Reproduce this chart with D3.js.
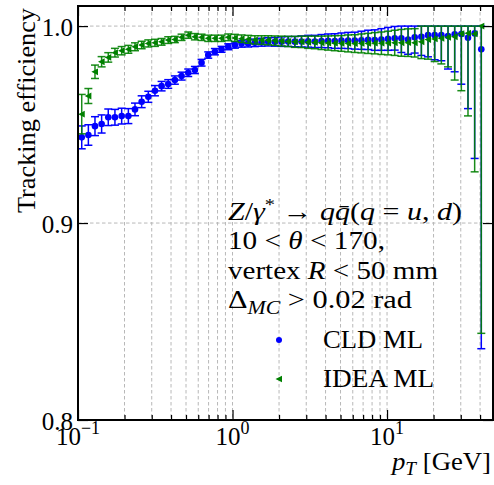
<!DOCTYPE html>
<html><head><meta charset="utf-8">
<script src="https://cdn.jsdelivr.net/npm/d3@7"></script>
<style>body{margin:0;background:#fff} svg{display:block}</style>
</head><body><svg id="c" width="494" height="485" font-family="'Liberation Serif', 'Times New Roman', serif"></svg>
<script>
// ---- data ----
const pT = [0.1057,0.1167,0.1288,0.1422,0.1570,0.1734,0.1917,0.2118,0.2338,0.2582,
  0.2851,0.3148,0.3475,0.3837,0.4236,0.4680,0.5169,0.5708,0.6304,0.6964,
  0.7691,0.8494,0.938,1.036,1.144,1.263,1.395,1.541,1.701,1.879,
  2.075,2.292,2.531,2.795,3.086,3.408,3.764,4.157,4.590,5.069,
  5.598,6.182,6.828,7.540,8.327,9.195,10.15,11.21,12.38,13.68,
  15.10,16.68,18.42,20.34,22.46,24.81,27.40,30.26,33.41,36.90,40.74];
const cldEff = [0.9435,0.9447,0.9492,0.9503,0.9537,0.9537,0.9543,0.9543,0.9577,0.9616,
  0.9641,0.9672,0.9695,0.9706,0.9726,0.9746,0.9763,0.9777,0.9814,0.9853,
  0.9870,0.9882,0.9895,0.9904,0.9910,0.9912,0.9915,0.9918,0.9920,0.9920,
  0.9921,0.9922,0.9921,0.9922,0.9923,0.9922,0.9924,0.9925,0.9924,0.9926,
  0.9927,0.9926,0.9928,0.9930,0.9929,0.9932,0.9935,0.9938,0.9938,0.9932,
  0.9943,0.9946,0.9954,0.9954,0.9954,0.9950,0.9958,0.9960,0.9941,0.9963,0.9882];
const cldErrLo = [0.0058,0.0052,0.0048,0.0046,0.0042,0.0040,0.0040,0.0038,0.0032,0.0030,
  0.0028,0.0026,0.0024,0.0022,0.0021,0.0020,0.0019,0.0018,0.0017,0.0016,
  0.0016,0.0015,0.0015,0.0016,0.0017,0.0018,0.0019,0.0020,0.0021,0.0022,
  0.0024,0.0025,0.0026,0.0028,0.0030,0.0031,0.0033,0.0035,0.0037,0.0039,
  0.0041,0.0043,0.0046,0.0049,0.0052,0.0055,0.0058,0.0060,0.0072,0.0075,
  0.0080,0.0095,0.0110,0.0125,0.0130,0.0168,0.0190,0.0255,0.0360,0.0635,0.1520];
const cldErrHi = [0.0058,0.0052,0.0048,0.0046,0.0042,0.0040,0.0040,0.0038,0.0032,0.0030,
  0.0028,0.0026,0.0024,0.0022,0.0021,0.0020,0.0019,0.0018,0.0017,0.0016,
  0.0016,0.0015,0.0015,0.0016,0.0017,0.0018,0.0019,0.0020,0.0021,0.0022,
  0.0024,0.0025,0.0026,0.0028,0.0030,0.0031,0.0033,0.0035,0.0037,0.0039,
  0.0041,0.0043,0.0046,0.0049,0.0052,0.0055,0.0058,0.0060,0.0062,0.0068,
  0.0057,0.0054,0.0046,0.0046,0.0046,0.0050,0.0042,0.0040,0.0059,0.0037,0.0118];
const ideaEff = [0.9553,0.9645,0.9768,0.9819,0.9841,0.9865,0.9875,0.9882,0.9895,0.9904,
  0.9912,0.9915,0.9920,0.9929,0.9932,0.9943,0.9954,0.9946,0.9943,0.9938,
  0.9938,0.9938,0.9943,0.9940,0.9936,0.9933,0.9930,0.9929,0.9928,0.9926,
  0.9924,0.9922,0.9920,0.9920,0.9918,0.9917,0.9915,0.9914,0.9913,0.9912,
  0.9912,0.9911,0.9912,0.9912,0.9913,0.9913,0.9914,0.9915,0.9915,0.9916,
  0.9915,0.9920,0.9932,0.9935,0.9938,0.9943,0.9946,0.9962,0.9964,0.9960,1.0000];
const ideaErrLo = [0.0100,0.0038,0.0034,0.0026,0.0024,0.0022,0.0021,0.0020,0.0020,0.0019,
  0.0018,0.0018,0.0017,0.0017,0.0016,0.0016,0.0016,0.0016,0.0016,0.0016,
  0.0016,0.0016,0.0017,0.0018,0.0019,0.0020,0.0021,0.0022,0.0023,0.0024,
  0.0025,0.0026,0.0028,0.0029,0.0031,0.0032,0.0034,0.0036,0.0038,0.0040,
  0.0043,0.0045,0.0048,0.0051,0.0054,0.0057,0.0060,0.0064,0.0068,0.0070,
  0.0072,0.0085,0.0100,0.0115,0.0130,0.0150,0.0220,0.0290,0.0420,0.0700,0.1560];
const ideaErrHi = [0.0100,0.0038,0.0034,0.0026,0.0024,0.0022,0.0021,0.0020,0.0020,0.0019,
  0.0018,0.0018,0.0017,0.0017,0.0016,0.0016,0.0016,0.0016,0.0016,0.0016,
  0.0016,0.0016,0.0017,0.0018,0.0019,0.0020,0.0021,0.0022,0.0023,0.0024,
  0.0025,0.0026,0.0028,0.0029,0.0031,0.0032,0.0034,0.0036,0.0038,0.0040,
  0.0043,0.0045,0.0048,0.0051,0.0054,0.0057,0.0060,0.0064,0.0068,0.0070,
  0.0072,0.0080,0.0068,0.0065,0.0062,0.0057,0.0054,0.0038,0.0036,0.0040,0.0000];
const seriesNames = ["CLD ML", "IDEA ML"];
const yTicks = [0.8, 0.9, 1.0];
const yTickLabels = ["0.8", "0.9", "1.0"];
const xMajorTicks = [0.1, 1, 10];
const xMajorExp = ["\u22121", "0", "1"];
const xMinorTicks = [0.2,0.3,0.4,0.5,0.6,0.7,0.8,0.9,2,3,4,5,6,7,8,9,20,30,40];

// ---- layout ----
const FONT = "'Liberation Serif', 'Times New Roman', serif";
const L = 78, R = 493, T = 6, B = 420;
const svg = d3.select("#c");
const x = d3.scaleLog().domain([0.1, 48.5]).range([L, R]);
const y = d3.scaleLinear().domain([0.8, 1.0102]).range([B, T]);
const blue = "#0000ff", green = "#008000";

function txt(parent) {
  return parent.append("text").style("font-family", FONT).attr("fill", "#000");
}
function fit(t, w) { t.attr("textLength", w).attr("lengthAdjust", "spacingAndGlyphs"); return t; }

// grid
const grid = svg.append("g").attr("stroke", "#b8b8b8").attr("stroke-width", 1).attr("stroke-dasharray", "3.5,2.5");
grid.selectAll(".gx").data(xMinorTicks.concat([1, 10])).join("line")
  .attr("x1", d => x(d)).attr("x2", d => x(d)).attr("y1", T).attr("y2", B);
grid.selectAll(".gy").data([0.9, 1.0]).join("line")
  .attr("x1", L).attr("x2", R).attr("y1", d => y(d)).attr("y2", d => y(d));

// series
function drawSeries(eff, lo, hi, color, marker, opacity) {
  const g = svg.append("g");
  const data = pT.map((p, i) => ({p, v: eff[i], lo: eff[i] - lo[i], hi: eff[i] + hi[i]}));
  const eb = g.append("g").attr("stroke", color).attr("stroke-width", 1.5).attr("stroke-opacity", opacity);
  eb.selectAll(".v").data(data).join("line")
    .attr("x1", d => x(d.p)).attr("x2", d => x(d.p)).attr("y1", d => y(d.lo)).attr("y2", d => y(d.hi));
  eb.selectAll(".cl").data(data).join("line")
    .attr("x1", d => x(d.p) - 4).attr("x2", d => x(d.p) + 4).attr("y1", d => y(d.lo)).attr("y2", d => y(d.lo));
  eb.selectAll(".ch").data(data.filter(d => d.hi > d.v)).join("line")
    .attr("x1", d => x(d.p) - 4).attr("x2", d => x(d.p) + 4).attr("y1", d => y(d.hi)).attr("y2", d => y(d.hi));
  const m = g.append("g").attr("fill", color);
  if (marker === "circle") {
    m.selectAll("circle").data(data).join("circle").attr("cx", d => x(d.p)).attr("cy", d => y(d.v)).attr("r", 3.3);
  } else {
    m.selectAll("path").data(data).join("path")
      .attr("d", d => { const cx = x(d.p), cy = y(d.v); return `M${cx-3.6},${cy}L${cx+3},${cy-3.4}L${cx+3},${cy+3.4}Z`; });
  }
}
drawSeries(cldEff, cldErrLo, cldErrHi, blue, "circle", 1);
drawSeries(ideaEff, ideaErrLo, ideaErrHi, green, "tri", 0.9);

// axes (inward ticks, all four sides)
const ax = svg.append("g");
ax.append("g").attr("transform", `translate(0,${B})`).call(d3.axisBottom(x).tickValues(xMajorTicks).tickSize(-10).tickFormat(""));
ax.append("g").attr("transform", `translate(0,${B})`).call(d3.axisBottom(x).tickValues(xMinorTicks).tickSize(-5).tickFormat(""));
ax.append("g").attr("transform", `translate(0,${T})`).call(d3.axisTop(x).tickValues(xMajorTicks).tickSize(-10).tickFormat(""));
ax.append("g").attr("transform", `translate(0,${T})`).call(d3.axisTop(x).tickValues(xMinorTicks).tickSize(-5).tickFormat(""));
ax.append("g").attr("transform", `translate(${L},0)`).call(d3.axisLeft(y).tickValues(yTicks).tickSize(-10).tickFormat(""));
ax.append("g").attr("transform", `translate(${R},0)`).call(d3.axisRight(y).tickValues(yTicks).tickSize(-10).tickFormat(""));
ax.selectAll(".domain").remove();
ax.selectAll(".tick line").attr("stroke", "#000").attr("stroke-width", 1.2);
svg.append("rect").attr("x", L).attr("y", T).attr("width", R - L).attr("height", B - T)
  .attr("fill", "none").attr("stroke", "#000").attr("stroke-width", 2);

// tick labels
const FS = 25;
const yl = svg.append("g");
yTicks.forEach((d, i) => {
  txt(yl).attr("x", L - 5).attr("y", y(d) + 9.5).attr("text-anchor", "end").attr("font-size", FS).text(yTickLabels[i]);
});
const xlg = svg.append("g");
xMajorTicks.forEach((d, i) => {
  const t = txt(xlg).attr("x", x(d)).attr("y", 445).attr("text-anchor", "middle").attr("font-size", FS);
  t.append("tspan").text("10");
  t.append("tspan").attr("dy", -11).attr("font-size", 18).text(xMajorExp[i]);
});

// axis titles
const xt = txt(svg).attr("x", 491).attr("y", 470).attr("text-anchor", "end").attr("font-size", FS);
xt.append("tspan").attr("font-style", "italic").text("p");
xt.append("tspan").attr("font-style", "italic").attr("font-size", 18).attr("dy", 5).text("T");
xt.append("tspan").attr("dy", -5).text(" [GeV]");
fit(xt, 99);
fit(txt(svg).attr("transform", "translate(35,110.5) rotate(-90)").attr("text-anchor", "middle")
  .attr("font-size", FS).text("Tracking efficiency"), 205);

// annotation
const ann = svg.append("g");
function line(yy, w, parts) {
  const t = txt(ann).attr("x", 228).attr("y", yy).attr("font-size", 25);
  parts.forEach(p => {
    const s = t.append("tspan").text(p[0]);
    if (p[1]) s.attr("font-style", "italic");
    if (p[2]) s.attr("font-size", p[2]);
    if (p[3]) s.attr("dy", p[3]);
  });
  return fit(t, w);
}
line(220, 234, [["Z",1],["/"],["\u03b3",1],["*",0,17,-10],[" \u2192 ",0,25,10],["q",1],["q\u0304",1],["("],["q",1],[" = "],["u",1],[", "],["d",1],[")"]]);
line(249, 157, [["10 < "],["\u03b8",1],[" < 170,"]]);
line(279, 210, [["vertex "],["R",1],[" < 50 mm"]]);
line(308, 184, [["\u0394"],["MC",1,18,6],[" > 0.02 rad",0,25,-6]]);

// legend
const lg = svg.append("g");
lg.append("circle").attr("cx", 279).attr("cy", 340).attr("r", 3).attr("fill", blue);
lg.append("path").attr("d", "M275.5,379L282,375.7L282,382.3Z").attr("fill", green);
fit(txt(lg).attr("x", 323).attr("y", 348).attr("font-size", 25).text(seriesNames[0]), 100);
fit(txt(lg).attr("x", 323).attr("y", 387).attr("font-size", 25).text(seriesNames[1]), 111);
</script></body></html>
